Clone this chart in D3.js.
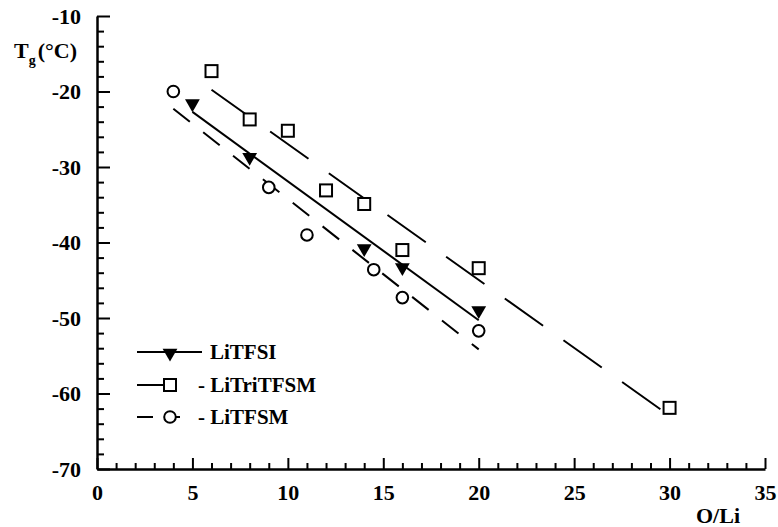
<!DOCTYPE html>
<html>
  <head>
    <meta charset="utf-8">
    <style>
      body { margin: 0; background: #fff; }
    </style>
  </head>
  <body>
    <div class='chart-container'></div>
    <script src="https://cdn.jsdelivr.net/npm/d3@7"></script>
    <script>
// data
var tfsiX = [5, 8, 14, 16, 20];
var tfsiY = [-21.6, -28.7, -40.8, -43.3, -49.0];

var triX = [6, 8, 10, 12, 14, 16, 20, 30];
var triY = [-17.3, -23.7, -25.2, -33.1, -34.9, -41.0, -43.4, -61.9];

var tfsmX = [4, 9, 11, 14.5, 16, 20];
var tfsmY = [-20.0, -32.7, -39.0, -43.6, -47.3, -51.7];

var legendLabels = ['LiTFSI', '- LiTriTFSM', '- LiTFSM'];
var xMajor = [0, 5, 10, 15, 20, 25, 30, 35];
var yMajor = [-10, -20, -30, -40, -50, -60, -70];

var width = 778, height = 527;
var serif = '"Liberation Serif", "Times New Roman", Times, serif';
var x = d3.scaleLinear().domain([0, 35]).range([97, 765]);
var y = d3.scaleLinear().domain([-10, -70]).range([16, 469]);

var svg = d3.select('.chart-container').append('svg')
    .attr('width', width)
    .attr('height', height);

// least squares fit, drawn over the span of each series
function fit(xs, ys) {
  var mx = d3.mean(xs), my = d3.mean(ys);
  var sxx = d3.sum(xs, d => (d - mx) * (d - mx));
  var sxy = d3.sum(xs, (d, i) => (d - mx) * (ys[i] - my));
  var b = sxy / sxx, a = my - b * mx;
  var x0 = d3.min(xs), x1 = d3.max(xs);
  return [[x0, a + b * x0], [x1, a + b * x1]];
}

var series = [
  {xs: tfsiX, ys: tfsiY, dash: null, mark: 'tri'},
  {xs: triX, ys: triY, dash: '47,25', mark: 'sq'},
  {xs: tfsmX, ys: tfsmY, dash: '21,17', mark: 'circ'}
];

var line = d3.line().x(d => x(d[0])).y(d => y(d[1]));

series.forEach(s => {
  svg.append('path')
      .attr('d', line(fit(s.xs, s.ys)))
      .style('fill', 'none')
      .style('stroke', '#000')
      .style('stroke-width', 2)
      .style('stroke-dasharray', s.dash);
});

function drawMark(g, kind, cx, cy) {
  if (kind === 'tri') {
    g.append('path')
        .attr('d', d3.symbol(d3.symbolTriangle, 95)())
        .attr('transform', 'translate(' + cx + ',' + cy + ') rotate(180)')
        .style('fill', '#000');
  } else if (kind === 'sq') {
    g.append('rect')
        .attr('x', cx - 6).attr('y', cy - 6)
        .attr('width', 12).attr('height', 12)
        .style('fill', '#fff')
        .style('stroke', '#000')
        .style('stroke-width', 2);
  } else {
    g.append('circle')
        .attr('cx', cx).attr('cy', cy).attr('r', 5.8)
        .style('fill', '#fff')
        .style('stroke', '#000')
        .style('stroke-width', 2);
  }
}

var marks = svg.append('g');
series.forEach(s => {
  s.xs.forEach((xv, i) => drawMark(marks, s.mark, x(xv), y(s.ys[i])));
});

// axes: ticks point inward
var yAxis = svg.append('g')
    .attr('transform', 'translate(97,0)')
    .call(d3.axisLeft(y).tickValues(yMajor).tickSizeInner(-13).tickSizeOuter(0)
      .tickPadding(16).tickFormat(d => String(d)));
svg.append('g')
    .attr('transform', 'translate(97,0)')
    .call(d3.axisLeft(y).tickValues(d3.range(-12, -70, -2).filter(v => v % 10 !== 0))
      .tickSizeInner(-7).tickSizeOuter(0).tickFormat(''))
    .call(g => g.select('.domain').remove());

var xAxis = svg.append('g')
    .attr('transform', 'translate(0,469)')
    .call(d3.axisBottom(x).tickValues(xMajor).tickSizeInner(-11).tickSizeOuter(0)
      .tickPadding(15));
svg.append('g')
    .attr('transform', 'translate(0,469)')
    .call(d3.axisBottom(x).tickValues(d3.range(1, 35).filter(v => v % 5 !== 0))
      .tickSizeInner(-6).tickSizeOuter(0).tickFormat(''))
    .call(g => g.select('.domain').remove());

svg.selectAll('.domain').style('stroke-width', 2.5);
svg.selectAll('.tick line').style('stroke-width', 2);

// axis titles
var yt = svg.append('text').attr('x', 14).attr('y', 58).style('font-size', '22px');
yt.append('tspan').text('T');
yt.append('tspan').attr('dy', 7).style('font-size', '14px').text('g');
yt.append('tspan').attr('dy', -7).attr('dx', 2).text('(°C)');

svg.append('text')
    .attr('x', 718).attr('y', 523)
    .attr('text-anchor', 'middle')
    .style('font-size', '22px')
    .text('O/Li');

// legend
var legRows = [352, 385, 417];
var leg = svg.append('g');
leg.append('line').attr('x1', 137).attr('x2', 202).attr('y1', legRows[0]).attr('y2', legRows[0]);
leg.append('line').attr('x1', 137).attr('x2', 165).attr('y1', legRows[1]).attr('y2', legRows[1]);
leg.append('line').attr('x1', 137).attr('x2', 153).attr('y1', legRows[2]).attr('y2', legRows[2]);
leg.append('line').attr('x1', 164).attr('x2', 180).attr('y1', legRows[2]).attr('y2', legRows[2]);
leg.selectAll('line').style('stroke', '#000').style('stroke-width', 2);
drawMark(leg, 'tri', 170, legRows[0] + 1);
drawMark(leg, 'sq', 170, legRows[1]);
drawMark(leg, 'circ', 170, legRows[2]);

leg.selectAll('text.lab')
  .data(legendLabels)
  .enter().append('text')
    .attr('class', 'lab')
    .attr('x', (d, i) => i === 0 ? 210 : 198)
    .attr('y', (d, i) => legRows[i] + 7)
    .style('font-size', '21px')
    .text(d => d);

svg.selectAll('text')
    .style('font-family', serif)
    .style('font-weight', 'bold')
    .style('fill', '#000');
xAxis.selectAll('.tick text').style('font-size', '22px');
yAxis.selectAll('.tick text').style('font-size', '22px');
    </script>
</body>
</html>
